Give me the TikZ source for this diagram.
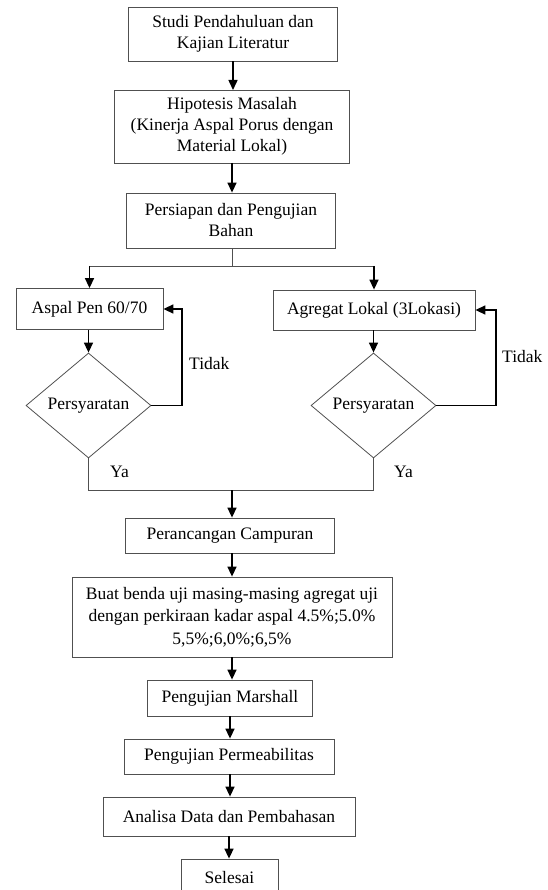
\documentclass[tikz,border=0pt]{standalone}
\usepackage{fontspec}
\setmainfont{Liberation Serif}
\usetikzlibrary{shapes.geometric,arrows.meta}
\definecolor{boxline}{RGB}{80,80,80}
\tikzset{
  box/.style={draw=boxline, line width=0.8pt, rectangle, inner sep=0pt, align=center,
    font=\fontsize{17.5}{21}\selectfont},
  dec/.style={draw=boxline, line width=0.8pt, diamond, inner sep=0pt,
    minimum width=125pt, minimum height=105pt, font=\fontsize{17.5}{21}\selectfont},
  tip/.style={-{Triangle[length=10pt,width=9pt]}},
  arr/.style={draw=black, line width=1.5pt, tip},
  thinline/.style={draw=boxline, line width=0.8pt},
  thickline/.style={draw=black, line width=1.5pt},
  lbl/.style={inner sep=0pt, font=\fontsize{17.5}{21}\selectfont}
}
\begin{document}
\begin{tikzpicture}[x=1pt,y=-1pt]
\useasboundingbox (0,0) rectangle (547,890);
% main column
\node[box, minimum width=209pt, minimum height=54pt] (b1) at (233,34) {Studi Pendahuluan dan\\Kajian Literatur};
\node[box, minimum width=235pt, minimum height=73pt] (b2) at (232,126.5) {Hipotesis Masalah\\(Kinerja Aspal Porus dengan\\Material Lokal)};
\node[box, minimum width=209pt, minimum height=55pt] (b3) at (231,220.5) {Persiapan dan Pengujian\\Bahan};
\node[box, minimum width=147pt, minimum height=41pt] (aspal) at (89.5,309) {Aspal Pen 60/70};
\node[box, minimum width=202pt, minimum height=40pt] (agregat) at (374,310) {Agregat Lokal (3Lokasi)};
\node[dec] (d1) at (88.5,405.5) {Persyaratan};
\node[dec] (d2) at (373.5,405.5) {Persyaratan};
\node[box, minimum width=209pt, minimum height=35pt] (per) at (230,535.5) {Perancangan Campuran};
\node[box, minimum width=320pt, minimum height=80pt, font=\fontsize{17.5}{22.5}\selectfont] (buat) at (232,617) {Buat benda uji masing-masing agregat uji\\dengan perkiraan kadar aspal 4.5\%;5.0\%\\5,5\%;6,0\%;6,5\%};
\node[box, minimum width=165pt, minimum height=36pt] (mar) at (230,698) {Pengujian Marshall};
\node[box, minimum width=210pt, minimum height=35pt] (perm) at (229,756.5) {Pengujian Permeabilitas};
\node[box, minimum width=252pt, minimum height=39pt] (ana) at (229,816.5) {Analisa Data dan Pembahasan};
\node[box, minimum width=97pt, minimum height=38pt] (sel) at (229.5,878) {Selesai};
% labels
\node[lbl, anchor=west] (t1) at (189,364) {Tidak};
\node[lbl, anchor=west] (t2) at (502,357) {Tidak};
\node[lbl] (y1) at (119.5,472) {Ya};
\node[lbl] (y2) at (403.5,472) {Ya};
% coordinates
\coordinate (split) at (232,266);
\coordinate (merge) at (232,490);
% arrows in column
\draw[arr] (b1.south -| 233,0) -- (233,90);
\draw[arr] (232,163) -- (b3.north -| 232,0);
\draw[thinline] (b3.south -| split) -- (split);
\draw[thinline] (aspal.north |- split) -- (agregat.north |- split);
\draw[arr] (aspal.north |- split) -- (aspal.north);
\draw[arr] (agregat.north |- split) -- (agregat.north);
\draw[arr] (aspal.south -| d1.north) -- (d1.north);
\draw[arr] (agregat.south -| d2.north) -- (d2.north);
% feedback loops
\draw[thickline, tip] (d1.east) -- (182,405.5) -- (182,309) -- (aspal.east);
\draw[thickline, tip] (d2.east) -- (496,405.5) -- (496,310) -- (agregat.east);
% merge
\draw[thinline] (d1.south) -- (d1.south |- merge) -- (d2.south |- merge) -- (d2.south);
\draw[arr] (merge) -- (per.north -| merge);
\draw[arr] (per.south -| 232,0) -- (buat.north -| 232,0);
\draw[arr] (buat.south -| 232,0) -- (mar.north -| 232,0);
\draw[arr] (mar.south -| 230,0) -- (perm.north -| 230,0);
\draw[arr] (perm.south -| 230,0) -- (ana.north -| 230,0);
\draw[arr] (ana.south -| 229,0) -- (sel.north -| 229,0);
\end{tikzpicture}
\end{document}
